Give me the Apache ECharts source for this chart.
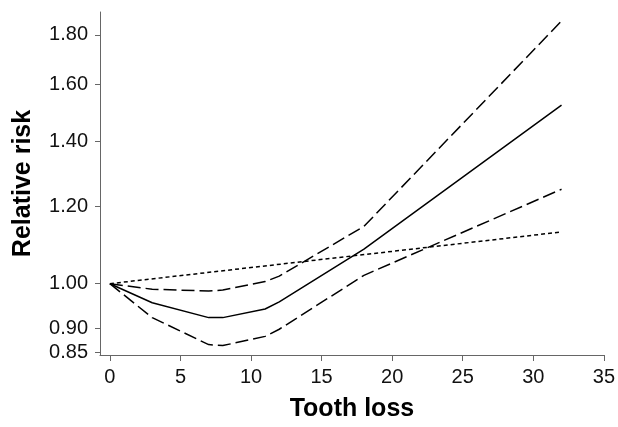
<!DOCTYPE html>
<html>
<head>
<meta charset="utf-8">
<script src="https://cdn.jsdelivr.net/npm/echarts@6/dist/echarts.min.js"></script>
<style>
html,body{margin:0;padding:0;background:#fff;}
#chart{width:618px;height:427px;}
</style>
</head>
<body>
<div id="chart"></div>
<script>
// Tooth loss knots (x) and relative risk values
const xKnots = [0, 3, 7, 8, 11, 12, 18, 32];
const rrEstimate = [1.00, 0.956, 0.923, 0.923, 0.942, 0.958, 1.085, 1.525];
const rrUpper = [1.00, 0.987, 0.983, 0.985, 1.005, 1.018, 1.145, 1.86];
const rrLower = [1.00, 0.923, 0.866, 0.864, 0.883, 0.898, 1.02, 1.25];
const linearX = [0, 32];
const rrLinear = [1.00, 1.13];
const yTickLabels = [0.85, 0.90, 1.00, 1.20, 1.40, 1.60, 1.80];
const xTickLabels = [0, 5, 10, 15, 20, 25, 30, 35];

const toPairs = (xs, ys) => xs.map((x, i) => [x, Math.log(ys[i])]);
const yTicksLog = yTickLabels.map(v => Math.log(v));

const chart = echarts.init(document.getElementById('chart'));
const font = 'Liberation Sans, Arial, sans-serif';
const axisColor = '#666';

function lineSeries(name, data, type) {
  return {
    name: name, type: 'line', data: data, symbol: 'none', smooth: false,
    lineStyle: { color: '#000', width: 1.5, type: type },
    animation: false
  };
}

chart.setOption({
  animation: false,
  grid: { left: 100, right: 11, top: 12, bottom: 69, containLabel: false },
  xAxis: {
    type: 'value', min: -0.7, max: 35,
    name: 'Tooth loss', nameLocation: 'middle', nameGap: 42,
    nameTextStyle: { fontFamily: font, fontWeight: 'bold', fontSize: 25, color: '#000' },
    axisLine: { show: true, onZero: false, lineStyle: { color: axisColor, width: 1 } },
    axisTick: { show: true, length: 6, customValues: xTickLabels, lineStyle: { color: axisColor } },
    axisLabel: { customValues: xTickLabels, fontFamily: font, fontSize: 20, color: '#111', margin: 12 },
    splitLine: { show: false }
  },
  yAxis: {
    type: 'value', min: Math.log(0.845), max: Math.log(1.90),
    name: 'Relative risk', nameLocation: 'middle', nameGap: 64,
    nameTextStyle: { fontFamily: font, fontWeight: 'bold', fontSize: 25, color: '#000' },
    axisLine: { show: true, onZero: false, lineStyle: { color: axisColor, width: 1 } },
    axisTick: { show: true, length: 5, customValues: yTicksLog, lineStyle: { color: axisColor } },
    axisLabel: {
      customValues: yTicksLog, fontFamily: font, fontSize: 20, color: '#111', margin: 12,
      formatter: v => Math.exp(v).toFixed(2)
    },
    splitLine: { show: false }
  },
  series: [
    lineSeries('Estimate', toPairs(xKnots, rrEstimate), 'solid'),
    lineSeries('Upper', toPairs(xKnots, rrUpper), [13, 5]),
    lineSeries('Lower', toPairs(xKnots, rrLower), [13, 5]),
    lineSeries('Linear', toPairs(linearX, rrLinear), [4, 3])
  ]
});
</script>
</body>
</html>
